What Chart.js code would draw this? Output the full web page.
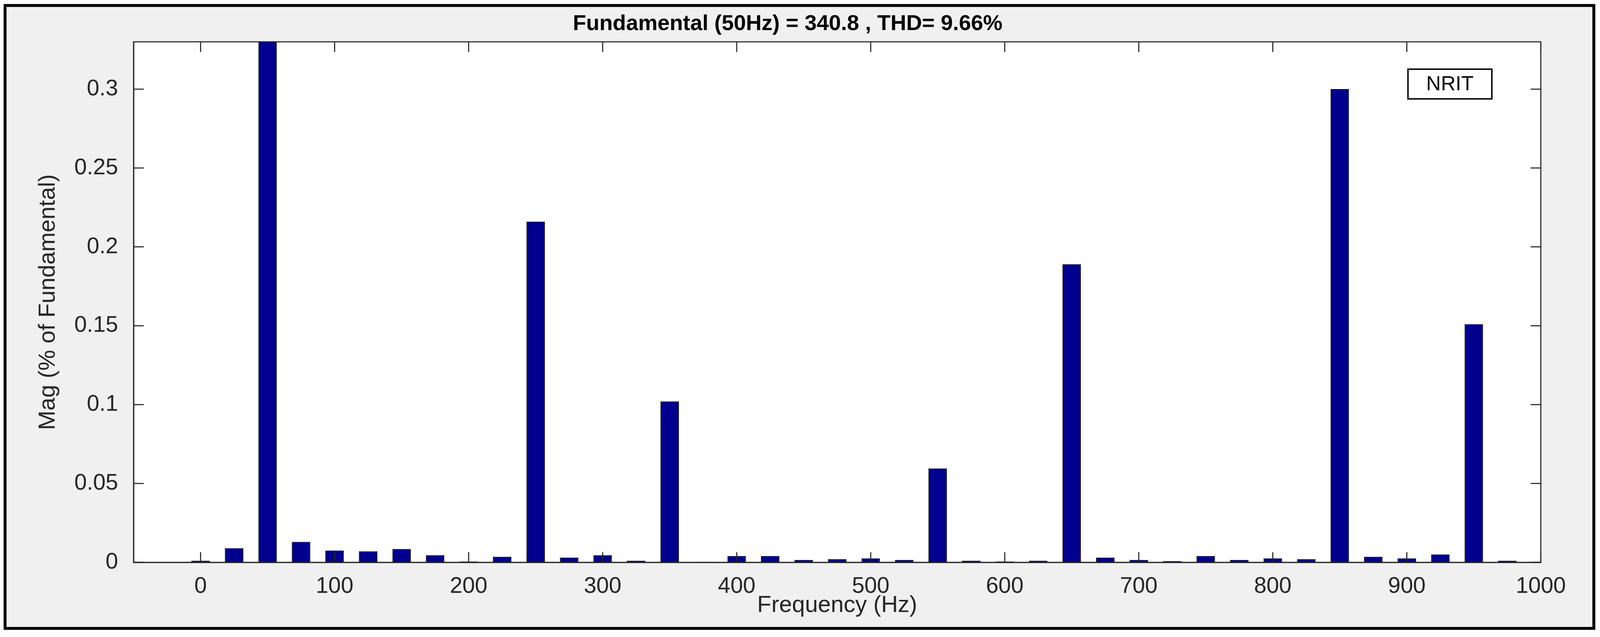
<!DOCTYPE html>
<html><head><meta charset="utf-8">
<script src="https://cdn.jsdelivr.net/npm/chart.js@4"></script>
<style>html,body{margin:0;padding:0;background:#fff;overflow:hidden}canvas{display:block}</style>
</head><body><canvas id="c"></canvas>
<script>
const freqs = [0,25,50,75,100,125,150,175,200,225,250,275,300,325,350,375,400,425,450,475,500,525,550,575,600,625,650,675,700,725,750,775,800,825,850,875,900,925,950,975];
const mags = [0.001,0.009,100,0.013,0.0075,0.007,0.0085,0.0045,0.0005,0.0035,0.216,0.003,0.0045,0.001,0.102,0.0003,0.004,0.004,0.0015,0.002,0.0025,0.0015,0.0595,0.001,0.0005,0.001,0.189,0.003,0.0015,0.0008,0.004,0.0015,0.0025,0.002,0.300,0.0035,0.0025,0.005,0.151,0.001];
const xTicks = [0,100,200,300,400,500,600,700,800,900,1000];
const yTicks = [0,0.05,0.1,0.15,0.2,0.25,0.3];
const titleText = 'Fundamental (50Hz) = 340.8 , THD= 9.66%';
const legendText = 'NRIT';

const W = document.documentElement.clientWidth || window.innerWidth;
const H = document.documentElement.clientHeight || window.innerHeight;
const k = W/4408, kh = H/1630;
const cv = document.getElementById('c');
cv.width=W; cv.height=H; cv.style.width=W+'px'; cv.style.height=H+'px';
const F='"Liberation Sans", Arial, sans-serif';

const frame = {
  id:'frame',
  beforeDraw(ch){
    const c=ch.ctx, a=ch.chartArea;
    c.save();
    c.fillStyle='#fff';c.fillRect(0,0,ch.width,ch.height);
    c.fillStyle='#f0f0f0';c.fillRect(14*k,14*kh,4377*k,1594*kh);
    c.lineWidth=8*k;c.strokeStyle='#000';c.strokeRect(14*k,14*kh,4377*k,1594*kh);
    c.fillStyle='#fff';c.fillRect(a.left,a.top,a.right-a.left,a.bottom-a.top);
    c.restore();
  },
  afterDatasetsDraw(ch){
    const c=ch.ctx,a=ch.chartArea,x=ch.scales.x,y=ch.scales.y;
    c.save();
    c.strokeStyle='#262626';c.lineWidth=3*k;
    c.beginPath();
    const L=28*k;
    xTicks.forEach(v=>{const p=x.getPixelForValue(v);c.moveTo(p,a.bottom);c.lineTo(p,a.bottom-L);c.moveTo(p,a.top);c.lineTo(p,a.top+L);});
    yTicks.forEach(v=>{const p=y.getPixelForValue(v);c.moveTo(a.left,p);c.lineTo(a.left+L,p);c.moveTo(a.right,p);c.lineTo(a.right-L,p);});
    c.stroke();
    c.strokeRect(a.left,a.top,a.right-a.left,a.bottom-a.top);
    const bx=a.right-366*k,by=a.top+70*kh,bw=231*k,bh=76*kh;
    c.fillStyle='#fff';c.fillRect(bx,by,bw,bh);
    c.lineWidth=4*k;c.strokeStyle='#000';c.strokeRect(bx,by,bw,bh);
    c.fillStyle='#000';c.font=(56*k)+'px '+F;
    c.textAlign='center';c.textBaseline='middle';c.fillText(legendText,bx+bw/2,by+bh/2+2*k);
    c.restore();
  }
};

new Chart(cv,{
  type:'bar',
  data:{datasets:[{data:freqs.map((f,i)=>({x:f,y:mags[i]})),backgroundColor:'#00008f',borderColor:'#000',borderWidth:2*k,barPercentage:0.55,categoryPercentage:1}]},
  options:{
    responsive:false,animation:false,devicePixelRatio:1,
    layout:{padding:{left:95*k,right:163*k,top:0,bottom:45*kh}},
    plugins:{legend:{display:false},tooltip:{enabled:false},
      title:{display:true,text:titleText,color:'#000',font:{family:F,size:60*k,weight:'bold'},padding:{top:28*kh,bottom:107*kh-28*kh-72*k}}},
    scales:{
      x:{type:'linear',min:-50,max:1000,offset:false,
        afterBuildTicks(s){s.ticks=xTicks.map(v=>({value:v}));},
        afterFit(s){s.height=191*kh-45*kh;},
        grid:{display:false},border:{display:true,color:'#262626',width:3*k},
        ticks:{color:'#262626',padding:20*kh,font:{family:F,size:62*k},maxRotation:0,callback:v=>String(v)},
        title:{display:true,text:'Frequency (Hz)',color:'#262626',font:{family:F,size:64*k},padding:{top:0,bottom:0}}},
      y:{min:0,max:0.33,
        afterBuildTicks(s){s.ticks=yTicks.map(v=>({value:v}));},
        afterFit(s){s.width=273*k;},
        grid:{display:false},border:{display:true,color:'#262626',width:3*k},
        ticks:{color:'#262626',padding:34*k,font:{family:F,size:62*k},callback:v=>String(+v.toFixed(2))},
        title:{display:true,text:'Mag (% of Fundamental)',color:'#262626',font:{family:'"Liberation Sans Narrow", "Liberation Sans", sans-serif',size:64*k},padding:{top:0,bottom:0}}}
    }
  },
  plugins:[frame]
});
</script></body></html>
